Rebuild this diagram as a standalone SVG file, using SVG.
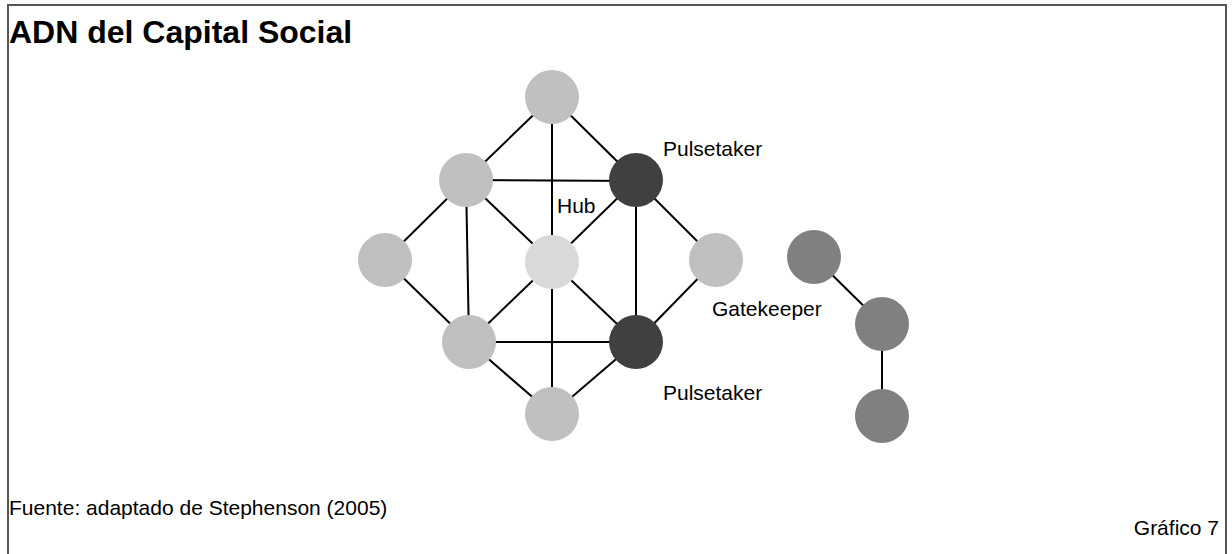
<svg xmlns="http://www.w3.org/2000/svg" width="1232" height="554" viewBox="0 0 1232 554">
  <style>
    .frame { fill: #ffffff; stroke: #555555; stroke-width: 2; }
    .edge { stroke: #000000; stroke-width: 2; fill: none; }
    .peer { fill: #c0c0c0; }
    .hub { fill: #d9d9d9; }
    .pulse { fill: #404040; }
    .chain { fill: #808080; }
    .lbl { font-family: "Liberation Sans", Arial, sans-serif; font-size: 21px; fill: #000000; }
    .title { font-family: "Liberation Sans", Arial, sans-serif; font-size: 32px; font-weight: bold; fill: #000000; }
  </style>

  <rect x="0" y="0" width="1232" height="554" fill="#ffffff"/>
  <rect class="frame" x="8" y="5" width="1218" height="560"/>

  <text class="title" x="9" y="43">ADN del Capital Social</text>

  <!-- links between members -->
  <g id="connectors">
    <line class="edge" x1="552" y1="97" x2="466" y2="180"/>
    <line class="edge" x1="552" y1="97" x2="636" y2="180"/>
    <line class="edge" x1="552" y1="97" x2="552" y2="414"/>
    <line class="edge" x1="466" y1="180" x2="636" y2="181"/>
    <line class="edge" x1="466" y1="180" x2="385" y2="260"/>
    <line class="edge" x1="466" y1="180" x2="469" y2="342"/>
    <line class="edge" x1="466" y1="180" x2="552" y2="262"/>
    <line class="edge" x1="636" y1="180" x2="552" y2="262"/>
    <line class="edge" x1="636" y1="180" x2="636" y2="342"/>
    <line class="edge" x1="636" y1="180" x2="716" y2="260"/>
    <line class="edge" x1="385" y1="260" x2="469" y2="342"/>
    <line class="edge" x1="716" y1="260" x2="636" y2="342"/>
    <line class="edge" x1="552" y1="262" x2="469" y2="342"/>
    <line class="edge" x1="552" y1="262" x2="636" y2="342"/>
    <line class="edge" x1="469" y1="342" x2="636" y2="342"/>
    <line class="edge" x1="469" y1="342" x2="552" y2="414"/>
    <line class="edge" x1="636" y1="342" x2="552" y2="414"/>
    <line class="edge" x1="814" y1="257" x2="882" y2="324"/>
    <line class="edge" x1="882" y1="324" x2="882" y2="416"/>
  </g>

  <g id="n-top"><circle class="peer" cx="552" cy="97" r="27"/></g>
  <g id="n-upper-left"><circle class="peer" cx="466" cy="180" r="27"/></g>
  <g id="n-upper-right"><circle class="pulse" cx="636" cy="180" r="27"/></g>
  <g id="n-left"><circle class="peer" cx="385" cy="260" r="27"/></g>
  <g id="n-hub"><circle class="hub" cx="552" cy="262" r="27"/></g>
  <g id="n-right"><circle class="peer" cx="716" cy="260" r="27"/></g>
  <g id="n-lower-left"><circle class="peer" cx="469" cy="342" r="27"/></g>
  <g id="n-lower-right"><circle class="pulse" cx="636" cy="342" r="27"/></g>
  <g id="n-bottom"><circle class="peer" cx="552" cy="414" r="27"/></g>
  <g id="n-chain-1"><circle class="chain" cx="814" cy="257" r="27"/></g>
  <g id="n-chain-2"><circle class="chain" cx="882" cy="324" r="27"/></g>
  <g id="n-chain-3"><circle class="chain" cx="882" cy="416" r="27"/></g>

  <g id="labels">
    <text class="lbl" x="663" y="156">Pulsetaker</text>
    <text class="lbl" x="557" y="213">Hub</text>
    <text class="lbl" x="712" y="316">Gatekeeper</text>
    <text class="lbl" x="663" y="400">Pulsetaker</text>
  </g>

  <text class="lbl" x="9" y="515">Fuente: adaptado de Stephenson (2005)</text>
  <text class="lbl" x="1219" y="535" text-anchor="end">Gráfico 7</text>
</svg>
